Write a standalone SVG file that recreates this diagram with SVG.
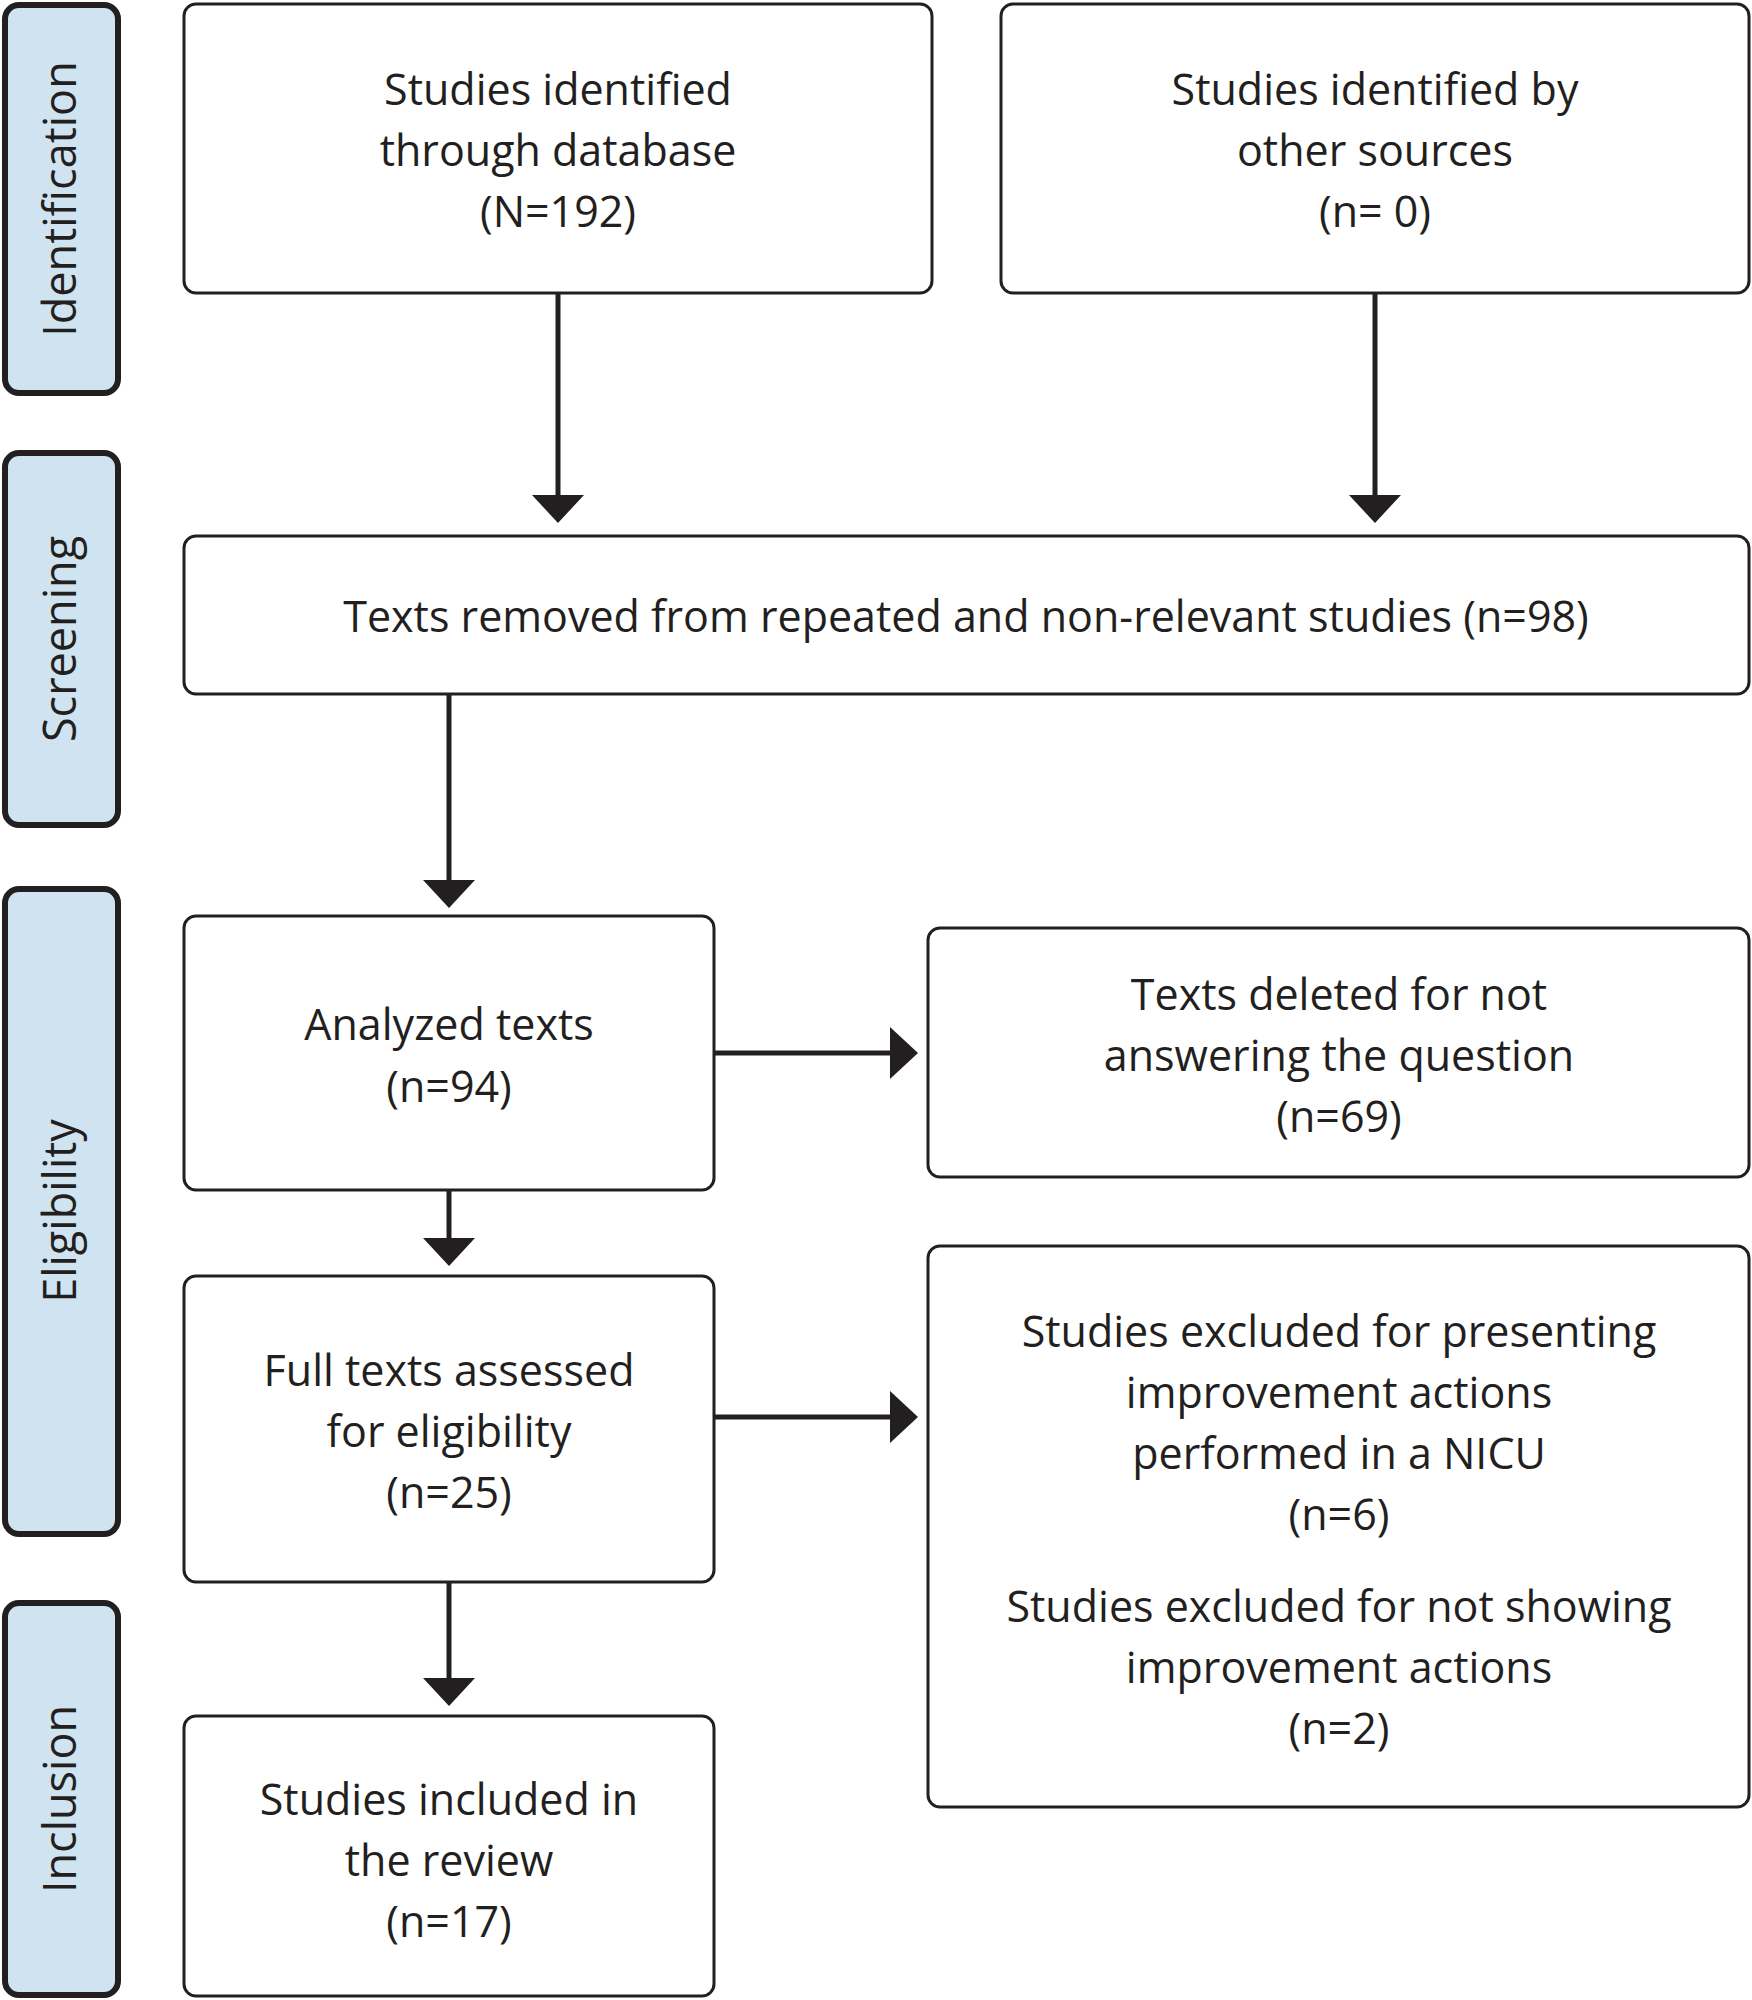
<svg xmlns="http://www.w3.org/2000/svg" width="1752" height="2000" viewBox="0 0 1752 2000">
<style>
.b{fill:#fff;stroke:#231f20;stroke-width:3}
.s{fill:#cfe4f0;stroke:#231f20;stroke-width:6}
text{font-family:"Open Sans","Liberation Sans",sans-serif;font-size:43px;fill:#231f20;text-anchor:middle}
.l{font-size:45px}
.c{stroke:#231f20;stroke-width:5;fill:none}
</style>
<rect width="1752" height="2000" fill="#fff"/>
<g id="side-identification"><rect class="s" x="5" y="5" width="113" height="388" rx="14"/><text class="l" transform="translate(76,199) rotate(-90)">Identification</text></g>
<g id="side-screening"><rect class="s" x="5" y="453" width="113" height="372" rx="14"/><text class="l" transform="translate(76,639) rotate(-90)">Screening</text></g>
<g id="side-eligibility"><rect class="s" x="5" y="889" width="113" height="645" rx="14"/><text class="l" transform="translate(76,1211) rotate(-90)">Eligibility</text></g>
<g id="side-inclusion"><rect class="s" x="5" y="1603" width="113" height="392" rx="14"/><text class="l" transform="translate(76,1799) rotate(-90)">Inclusion</text></g>
<g id="db"><rect class="b" x="184" y="4" width="748" height="289" rx="12"/><text x="558" y="105">Studies identified</text><text x="558" y="166">through database</text><text x="558" y="227">(N=192)</text></g>
<g id="other"><rect class="b" x="1001" y="4" width="748" height="289" rx="12"/><text x="1375" y="105">Studies identified by</text><text x="1375" y="166">other sources</text><text x="1375" y="227">(n= 0)</text></g>
<g id="screen"><rect class="b" x="184" y="536" width="1565" height="158" rx="12"/><text x="966" y="632">Texts removed from repeated and non-relevant studies (n=98)</text></g>
<g id="analyzed"><rect class="b" x="184" y="916" width="530" height="274" rx="12"/><text x="449" y="1040">Analyzed texts</text><text x="449" y="1102">(n=94)</text></g>
<g id="deleted"><rect class="b" x="928" y="928" width="821" height="249" rx="12"/><text x="1339" y="1010">Texts deleted for not</text><text x="1339" y="1071">answering the question</text><text x="1339" y="1132">(n=69)</text></g>
<g id="full"><rect class="b" x="184" y="1276" width="530" height="306" rx="12"/><text x="449" y="1386">Full texts assessed</text><text x="449" y="1447">for eligibility</text><text x="449" y="1508">(n=25)</text></g>
<g id="excluded"><rect class="b" x="928" y="1246" width="821" height="561" rx="12"/><text x="1339" y="1347">Studies excluded for presenting</text><text x="1339" y="1408">improvement actions</text><text x="1339" y="1469">performed in a NICU</text><text x="1339" y="1530">(n=6)</text><text x="1339" y="1622">Studies excluded for not showing</text><text x="1339" y="1683">improvement actions</text><text x="1339" y="1744">(n=2)</text></g>
<g id="included"><rect class="b" x="184" y="1716" width="530" height="280" rx="12"/><text x="449" y="1815">Studies included in</text><text x="449" y="1876">the review</text><text x="449" y="1937">(n=17)</text></g>
<g id="connectors" fill="#231f20">
<path class="c" d="M558 293V497"/><path d="M532 495H584L558 523Z"/>
<path class="c" d="M1375 293V497"/><path d="M1349 495H1401L1375 523Z"/>
<path class="c" d="M449 694V882"/><path d="M423 880H475L449 908Z"/>
<path class="c" d="M449 1190V1240"/><path d="M423 1238H475L449 1266Z"/>
<path class="c" d="M449 1582V1680"/><path d="M423 1678H475L449 1706Z"/>
<path class="c" d="M714 1053H892"/><path d="M890 1027V1079L918 1053Z"/>
<path class="c" d="M714 1417H892"/><path d="M890 1391V1443L918 1417Z"/>
</g>
</svg>
